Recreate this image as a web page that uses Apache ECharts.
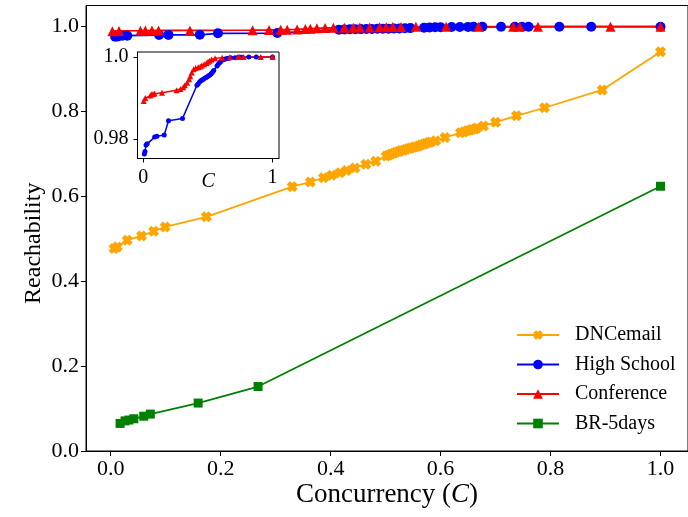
<!DOCTYPE html>
<html><head><meta charset="utf-8">
<script src="https://cdn.jsdelivr.net/npm/echarts/dist/echarts.min.js"></script>
<style>html,body{margin:0;padding:0;background:#fff}#c{width:688px;height:517px}</style>
</head><body><div id="c"></div>
<script>
const seriesNames = ['DNCemail', 'High School', 'Conference', 'BR-5days'];

const dncX = [0.006, 0.012, 0.030, 0.056, 0.078, 0.099, 0.174, 0.330, 0.363, 0.387, 0.402, 0.417, 0.429, 0.444, 0.464, 0.482, 0.501, 0.505, 0.510, 0.515, 0.519, 0.524, 0.528, 0.533, 0.537, 0.542, 0.546, 0.551, 0.555, 0.560, 0.564, 0.569, 0.573, 0.578, 0.582, 0.591, 0.608, 0.636, 0.642, 0.648, 0.653, 0.657, 0.662, 0.666, 0.678, 0.700, 0.738, 0.789, 0.894, 1.0];
const dncY = [0.477, 0.481, 0.497, 0.507, 0.518, 0.528, 0.552, 0.623, 0.634, 0.644, 0.650, 0.656, 0.661, 0.667, 0.676, 0.683, 0.695, 0.697, 0.700, 0.702, 0.704, 0.706, 0.708, 0.709, 0.711, 0.713, 0.714, 0.716, 0.717, 0.719, 0.721, 0.723, 0.725, 0.727, 0.728, 0.731, 0.739, 0.750, 0.752, 0.755, 0.756, 0.758, 0.759, 0.761, 0.766, 0.775, 0.790, 0.809, 0.851, 0.941];

const hsX = [0.008, 0.013, 0.021, 0.030, 0.088, 0.105, 0.162, 0.195, 0.303, 0.415, 0.425, 0.435, 0.445, 0.455, 0.465, 0.475, 0.485, 0.495, 0.505, 0.515, 0.525, 0.535, 0.545, 0.570, 0.580, 0.590, 0.600, 0.620, 0.635, 0.650, 0.660, 0.676, 0.710, 0.735, 0.748, 0.760, 0.816, 0.874, 1.0];
const hsY = [0.9764, 0.9770, 0.9786, 0.9789, 0.9805, 0.9807, 0.9810, 0.9845, 0.9850, 0.9931, 0.9935, 0.9939, 0.9942, 0.9944, 0.9946, 0.9948, 0.9950, 0.9952, 0.9954, 0.9956, 0.9959, 0.9963, 0.9967, 0.9978, 0.9982, 0.9986, 0.9989, 0.9993, 0.9995, 0.9996, 0.9997, 0.9998, 0.9998, 0.9999, 0.9999, 0.9999, 1.0, 1.0, 1.0];

const confX = [0.003, 0.015, 0.054, 0.063, 0.075, 0.087, 0.144, 0.258, 0.288, 0.309, 0.321, 0.339, 0.354, 0.363, 0.375, 0.390, 0.405, 0.425, 0.441, 0.453, 0.471, 0.489, 0.501, 0.513, 0.528, 0.555, 0.610, 0.669, 0.732, 0.744, 0.777, 0.909, 1.0];
const confY = [0.9893, 0.9900, 0.9906, 0.9909, 0.9910, 0.9911, 0.9913, 0.9919, 0.9922, 0.9926, 0.9931, 0.9937, 0.9946, 0.9953, 0.9962, 0.9970, 0.9973, 0.9975, 0.9977, 0.9979, 0.9982, 0.9985, 0.9988, 0.9991, 0.9994, 0.9997, 0.9998, 0.9999, 1.0, 1.0, 1.0, 1.0, 1.0];

const brX = [0.017, 0.026, 0.033, 0.042, 0.060, 0.072, 0.159, 0.268, 1.0];
const brY = [0.065, 0.071, 0.073, 0.076, 0.082, 0.087, 0.113, 0.152, 0.624];

const mainXTicks = [0, 0.2, 0.4, 0.6, 0.8, 1.0];
const mainXTickLabels = ['0.0', '0.2', '0.4', '0.6', '0.8', '1.0'];
const mainYTicks = [0, 0.2, 0.4, 0.6, 0.8, 1.0];
const mainYTickLabels = ['0.0', '0.2', '0.4', '0.6', '0.8', '1.0'];
const insetXTicks = [0, 1];
const insetXTickLabels = ['0', '1'];
const insetYTicks = [0.98, 1.0];
const insetYTickLabels = ['0.98', '1.0'];

const zip = (a, b) => a.map((v, i) => [v, b[i]]);
const lab = (ticks, labels) => (v) => {
  let best = 0, d = Infinity;
  ticks.forEach((t, i) => { const dd = Math.abs(t - v); if (dd < d) { d = dd; best = i; } });
  return labels[best];
};
const FONT = "'Liberation Serif','Times New Roman',serif";
const XPATH = 'path://M0,3 L3,0 L5,2 L7,0 L10,3 L8,5 L10,7 L7,10 L5,8 L3,10 L0,7 L2,5 Z';
const colors = {dnc: '#FFA500', hs: '#0000FF', conf: '#FF0000', br: '#008000'};

const axisLineStyle = {show: true, onZero: false, lineStyle: {color: '#000', width: 1}};
const tickStyle = (len, vals) => ({show: true, length: len, inside: false, customValues: vals, lineStyle: {color: '#000', width: 1}});

const chart = echarts.init(document.getElementById('c'), null, {renderer: 'canvas'});
chart.setOption({
  animation: false,
  backgroundColor: '#fff',
  grid: [
    {left: 86, top: 5.5, width: 608, height: 445.5, show: true, borderColor: '#000', borderWidth: 1, backgroundColor: 'transparent'},
    {left: 137.5, top: 52, width: 141.5, height: 106.5, show: true, borderColor: '#000', borderWidth: 1, backgroundColor: '#fff'}
  ],
  xAxis: [
    {type: 'value', gridIndex: 0, min: -0.045, max: 1.05,
     axisLine: axisLineStyle, splitLine: {show: false},
     axisTick: tickStyle(5, mainXTicks),
     axisLabel: {customValues: mainXTicks, formatter: lab(mainXTicks, mainXTickLabels), fontFamily: FONT, fontSize: 22, color: '#000', margin: 7},
     name: 'Concurrency ({i|C})', nameLocation: 'middle', nameGap: 30, nameMoveOverlap: false,
     nameTextStyle: {fontFamily: FONT, fontSize: 27, color: '#000', rich: {i: {fontFamily: FONT, fontSize: 27, fontStyle: 'italic', color: '#000'}}}},
    {type: 'value', gridIndex: 1, min: -0.045, max: 1.05,
     axisLine: axisLineStyle, splitLine: {show: false},
     axisTick: tickStyle(4, insetXTicks),
     axisLabel: {customValues: insetXTicks, formatter: lab(insetXTicks, insetXTickLabels), fontFamily: FONT, fontSize: 20, color: '#000', margin: 9},
     name: 'C', nameLocation: 'middle', nameGap: 13, nameMoveOverlap: false,
     nameTextStyle: {fontFamily: FONT, fontSize: 20, fontStyle: 'italic', color: '#000'}}
  ],
  yAxis: [
    {type: 'value', gridIndex: 0, min: 0, max: 1.05,
     axisLine: axisLineStyle, splitLine: {show: false},
     axisTick: tickStyle(5, mainYTicks),
     axisLabel: {customValues: mainYTicks, formatter: lab(mainYTicks, mainYTickLabels), fontFamily: FONT, fontSize: 22, color: '#000', margin: 7},
     name: 'Reachability', nameLocation: 'middle', nameGap: 40, nameMoveOverlap: false,
     nameTextStyle: {fontFamily: FONT, fontSize: 24, color: '#000', padding: [0, 30, 0, 0]}},
    {type: 'value', gridIndex: 1, min: 0.9753, max: 1.0012,
     axisLine: axisLineStyle, splitLine: {show: false},
     axisTick: tickStyle(4, insetYTicks),
     axisLabel: {customValues: insetYTicks, formatter: lab(insetYTicks, insetYTickLabels), fontFamily: FONT, fontSize: 20, color: '#000', margin: 9}}
  ],
  legend: {
    data: seriesNames, orient: 'vertical', left: 516, top: 325, padding: 0,
    itemWidth: 42, itemHeight: 12, itemGap: 9.5,
    textStyle: {fontFamily: FONT, fontSize: 20, color: '#000', lineHeight: 20, padding: [0, 0, 0, 11]}
  },
  series: [
    {type: 'line', name: 'DNCemail', xAxisIndex: 0, yAxisIndex: 0, data: zip(dncX, dncY),
     symbol: XPATH, symbolSize: 11, showAllSymbol: true, itemStyle: {color: colors.dnc}, lineStyle: {color: colors.dnc, width: 1.8}},
    {type: 'line', name: 'High School', xAxisIndex: 0, yAxisIndex: 0, data: zip(hsX, hsY),
     symbol: 'circle', symbolSize: 10, showAllSymbol: true, itemStyle: {color: colors.hs}, lineStyle: {color: colors.hs, width: 1.8}},
    {type: 'line', name: 'Conference', xAxisIndex: 0, yAxisIndex: 0, data: zip(confX, confY),
     symbol: 'triangle', symbolSize: 10, showAllSymbol: true, itemStyle: {color: colors.conf}, lineStyle: {color: colors.conf, width: 1.8}},
    {type: 'line', name: 'BR-5days', xAxisIndex: 0, yAxisIndex: 0, data: zip(brX, brY),
     symbol: 'rect', symbolSize: 9, showAllSymbol: true, itemStyle: {color: colors.br}, lineStyle: {color: colors.br, width: 1.8}},
    {type: 'line', name: 'hs-inset', xAxisIndex: 1, yAxisIndex: 1, data: zip(hsX, hsY),
     symbol: 'circle', symbolSize: 5, showAllSymbol: true, itemStyle: {color: colors.hs}, lineStyle: {color: colors.hs, width: 1.5}},
    {type: 'line', name: 'conf-inset', xAxisIndex: 1, yAxisIndex: 1, data: zip(confX, confY),
     symbol: 'triangle', symbolSize: 6, showAllSymbol: true, itemStyle: {color: colors.conf}, lineStyle: {color: colors.conf, width: 1.5}}
  ]
});
</script></body></html>
